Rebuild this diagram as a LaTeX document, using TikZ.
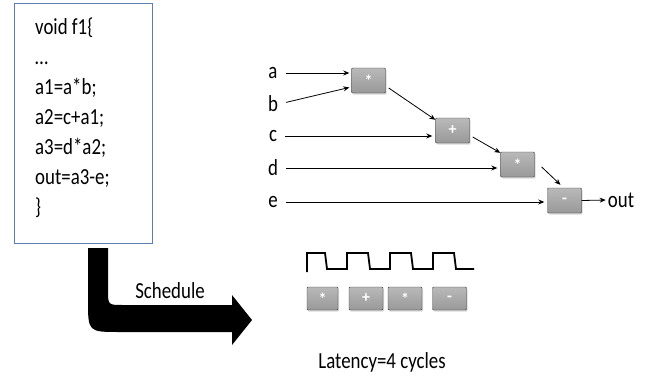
\documentclass[tikz,border=0pt]{standalone}
\usepackage{fontspec}
\setmainfont{Carlito}
\newfontfamily\narrowfont[FakeStretch=0.82]{Carlito}
\usetikzlibrary{arrows.meta, shadows, calc}
\definecolor{codeblue}{RGB}{90,125,180}

\begin{document}
\begin{tikzpicture}[x=1pt, y=-1pt,
	op/.style={draw=gray!45!black, top color=gray!55, bottom color=gray!80, text=white,
		rounded corners=1pt, minimum width=34pt, minimum height=25pt, inner sep=0pt,
		font=\fontsize{16}{16}\selectfont\bfseries,
		drop shadow={opacity=0.3, shadow xshift=1pt, shadow yshift=-1.5pt}},
	lbl/.style={font=\narrowfont\fontsize{23}{23}\selectfont, inner sep=1pt},
	wire/.style={-{Stealth[length=6pt, width=5pt]}, thick}]
	\useasboundingbox (0,0) rectangle (649,380);

	% source code
	\node[draw=codeblue, minimum width=138pt, minimum height=240pt, anchor=north west] (codebox) at (14,3) {};
	\node[anchor=north west, align=left, inner sep=0pt, font=\narrowfont\fontsize{23}{30}\selectfont] (code) at (35,18)
		{void f1\{\\ \dots\\ a1=a*b;\\ a2=c+a1;\\ a3=d*a2;\\ out=a3-e;\\ \}};

	% schedule arrow
	\fill (88,248) -- (108,248) -- (108,290) .. controls (108,305) .. (123,305) -- (232,305)
		-- (232,295) -- (252,320) -- (232,345) -- (232,332) -- (120,332)
		.. controls (88,332) .. (88,300) -- cycle;
	\node[lbl] (sched) at (170,291) {Schedule};

	% data flow graph
	\node[lbl] (a) at (273,73) {a};
	\node[lbl] (b) at (273,104) {b};
	\node[lbl] (c) at (273,136) {c};
	\node[lbl] (d) at (273,168) {d};
	\node[lbl] (e) at (273,202) {e};
	\node[op] (mul1) at (368.5,80.5) {*};
	\node[op] (add) at (452.5,130.5) {+};
	\node[op] (mul2) at (517.5,164.5) {*};
	\node[op] (sub) at (564.5,200.5) {-};
	\node[lbl] (out) at (621,200) {out};

	\draw[wire, shorten <=7pt, shorten >=2pt] (a.east) -- ([yshift=7.5pt]mul1.west);
	\draw[wire, shorten <=7pt, shorten >=2pt] (b.east) -- ([yshift=-6.5pt]mul1.west);
	\draw[wire, shorten <=7pt, shorten >=3pt] (c.east) -- (add.west |- c.east);
	\draw[wire, shorten <=7pt, shorten >=3pt] (d.east) -- (mul2.west |- d.east);
	\draw[wire, shorten <=7pt, shorten >=3pt] (e.east) -- (sub.west |- e.east);
	\draw[wire] ([xshift=3pt,yshift=-7.5pt]mul1.east) -- ([yshift=-2pt]add.north west);
	\draw[wire] ([xshift=3pt,yshift=-6.5pt]add.east) -- ([yshift=-1pt]mul2.north west);
	\draw[wire] ([xshift=7pt,yshift=-2.5pt]mul2.east) -- ([xshift=-4pt,yshift=3pt]sub.north);
	\draw[wire, shorten >=1pt] (sub.east) -- (out.west);

	% clock and schedule
	\draw[line width=1.8pt] (307,272) -- (307,253) -- (325,253) -- (327,269) -- (347,269)
		-- (347,253) -- (368,253) -- (370,269) -- (390,269) -- (390,253) -- (411,253)
		-- (413,269) -- (433,269) -- (433,253) -- (454,253) -- (456,269) -- (474,269);
	\node[op, minimum width=31pt, minimum height=23pt] (s1) at (322.5,298.5) {*};
	\node[op, minimum height=23pt] (s2) at (366,298.5) {+};
	\node[op, minimum height=23pt] (s3) at (405,298.5) {*};
	\node[op, minimum height=23pt] (s4) at (449.5,298.5) {-};
	\node[lbl] (lat) at (382,362) {Latency=4 cycles};
\end{tikzpicture}
\end{document}
